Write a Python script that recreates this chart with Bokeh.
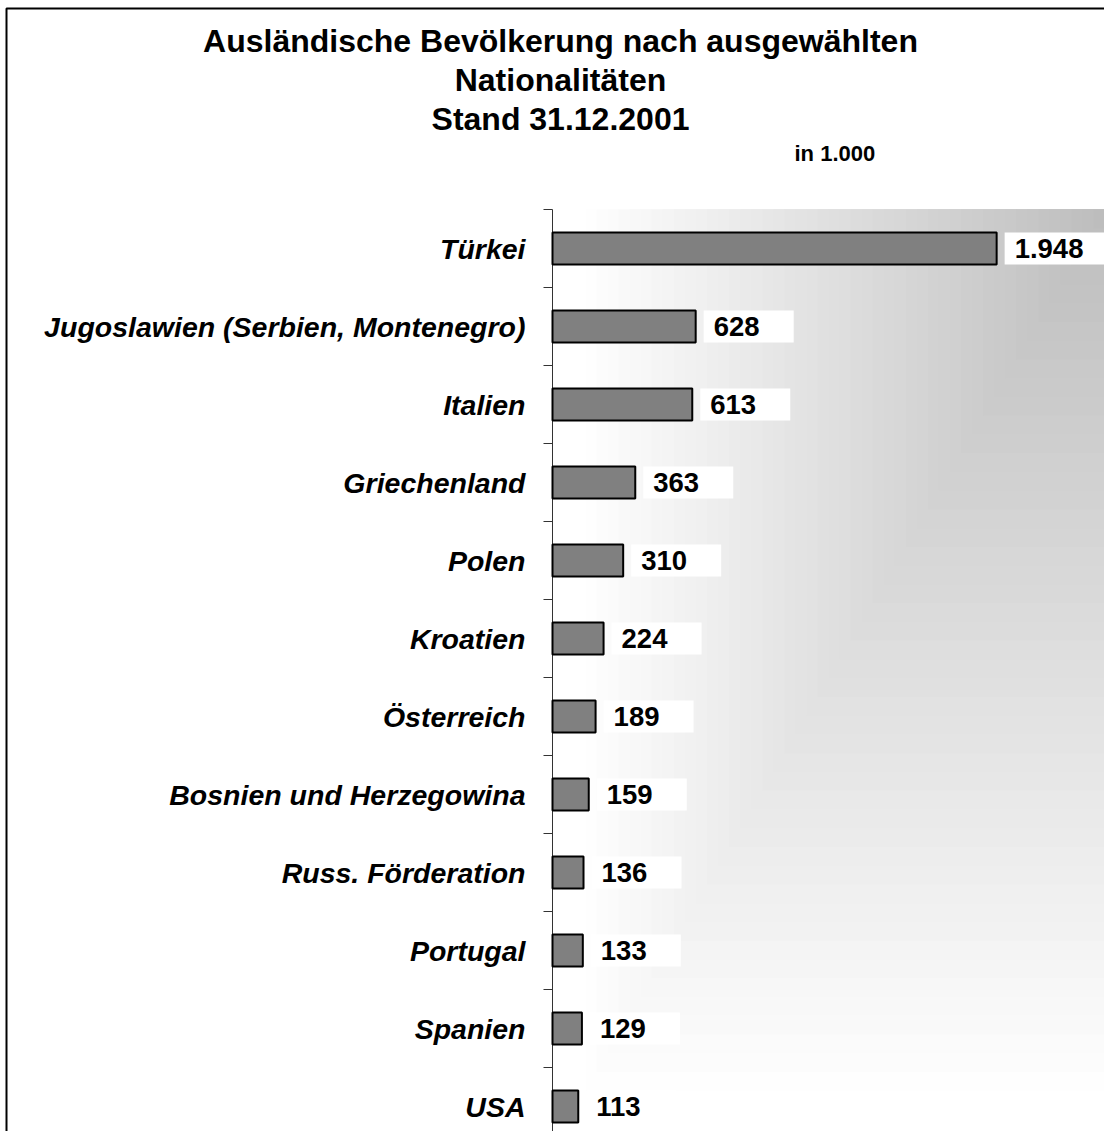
import numpy as np
from bokeh.plotting import figure
from bokeh.models import Range1d
from bokeh.core.properties import value
from bokeh.embed import file_html
from bokeh.resources import INLINE

# ---------------- data ----------------
countries = [
    "Türkei",
    "Jugoslawien (Serbien, Montenegro)",
    "Italien",
    "Griechenland",
    "Polen",
    "Kroatien",
    "Österreich",
    "Bosnien und Herzegowina",
    "Russ. Förderation",
    "Portugal",
    "Spanien",
    "USA",
]
values_k = [1948, 628, 613, 363, 310, 224, 189, 159, 136, 133, 129, 113]
title_lines = [
    "Ausländische Bevölkerung nach ausgewählten",
    "Nationalitäten",
    "Stand 31.12.2001",
]
unit_label = "in 1.000"

# ---------------- layout helpers (pixel -> data) ----------------
W, H = 1104, 1131
n = len(countries)
X0_PX = 552          # pixel position of value 0 (category axis)
SX = 0.228           # pixels per 1 (thousand)
YTOP_PX = 209        # pixel position of top of plot area
SY = 78.0            # pixels per category


def xd(px):
    return (px - X0_PX) / SX


def yd(py):
    return n - (py - YTOP_PX) / SY


FONT = "Liberation Sans"
ypos = [n - 0.5 - i for i in range(n)]
x_end = xd(W)
y_end = float(n)
y_start = yd(H)

p = figure(
    width=W, height=H,
    x_range=Range1d(xd(0), xd(W)), y_range=Range1d(yd(H), yd(0)),
    output_backend="svg", toolbar_location=None, tools="",
    x_axis_location=None, y_axis_location=None, title=None,
)
p.min_border = 0
p.background_fill_color = "white"
p.border_fill_color = "white"
p.outline_line_color = None
p.grid.visible = False

# ---------------- gradient background (corner gradient from top right) ----------------
N = 48
t = np.linspace(1.0, 1.0 / N, N)
grad_w = 530 / SX
grad_h = 900 / SY
g_left = x_end - t * grad_w
g_bottom = y_end - t * grad_h
gray = np.clip(np.round(188 + 67 * t), 0, 255).astype(int)
g_colors = ["#%02x%02x%02x" % (g, g, g) for g in gray]
p.quad(left=g_left, right=np.full(N, x_end), bottom=g_bottom, top=np.full(N, y_end),
       fill_color=g_colors, line_color=None)

# ---------------- category axis (line, ticks between categories, labels) ----------------
p.segment(x0=[0], y0=[y_start], x1=[0], y1=[y_end], line_color="#333333", line_width=1)
tick_y = [float(k) for k in range(1, n + 1)]
p.segment(x0=[-9 / SX] * n, y0=tick_y, x1=[0] * n, y1=tick_y,
          line_color="#333333", line_width=1)
p.text(x=[0] * n, y=ypos, text=countries, x_offset=-27,
       text_align="right", text_baseline="middle",
       text_font=value(FONT), text_font_style="bold italic", text_font_size="28.5px",
       text_color="black")

# ---------------- bars ----------------
p.hbar(y=ypos, left=0, right=values_k, height=0.41,
       fill_color="#808080", line_color="black", line_width=2)

# ---------------- data labels with white boxes ----------------
labels = [f"{v:,}".replace(",", ".") for v in values_k]
box_w_px = [45 + sum(15 if ch.isdigit() else 7.5 for ch in s) for s in labels]
box_left = [v + 8 / SX for v in values_k]
box_right = [l + w / SX for l, w in zip(box_left, box_w_px)]
p.quad(left=box_left, right=box_right,
       bottom=[y - 0.205 for y in ypos], top=[y + 0.205 for y in ypos],
       fill_color="white", line_color=None)
p.text(x=values_k, y=ypos, text=labels, x_offset=18,
       text_align="left", text_baseline="middle",
       text_font=value(FONT), text_font_style="bold", text_font_size="27.5px",
       text_color="black")

# ---------------- titles ----------------
title_centers_px = [40, 79, 118]
p.text(x=[xd(560)] * len(title_lines), y=[yd(c) for c in title_centers_px],
       text=title_lines, text_align="center", text_baseline="middle",
       text_font=value(FONT), text_font_style="bold", text_font_size="32px",
       text_color="black")
p.text(x=[xd(794)], y=[yd(153)], text=[unit_label],
       text_align="left", text_baseline="middle",
       text_font=value(FONT), text_font_style="bold", text_font_size="22px",
       text_color="black")

# ---------------- outer chart border (left and top visible) ----------------
p.line(x=[xd(6), xd(6), x_end], y=[y_start, yd(8), yd(8)],
       line_color="black", line_width=2)

open("out.html", "w").write(file_html(p, INLINE))
